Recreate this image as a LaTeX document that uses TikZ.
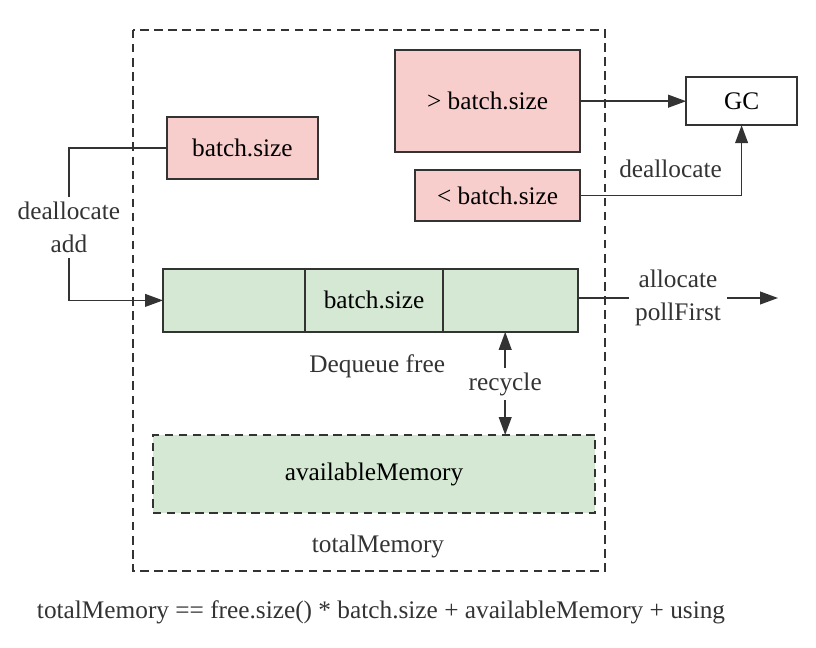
\documentclass[tikz,border=0pt]{standalone}
\usepackage{fontspec}
\setmainfont{LiberationSerif}[Extension=.ttf, UprightFont=*-Regular, BoldFont=*-Bold]
\usetikzlibrary{arrows.meta, positioning}
\definecolor{pinkfill}{RGB}{248,206,204}
\definecolor{greenfill}{RGB}{213,232,212}
\definecolor{linecol}{RGB}{51,51,51}
\tikzset{
    block/.style={
        rectangle, draw=linecol, line width=1.1pt, fill=white,
        text centered, inner sep=0pt, outer sep=0pt,
        font=\fontsize{18}{21}\selectfont
    },
    pinkblock/.style={block, fill=pinkfill},
    greenblock/.style={block, fill=greenfill},
    dashblock/.style={greenblock, dash pattern=on 6pt off 4pt},
    connection/.style={draw=linecol, line width=1.1pt, -{Triangle[length=0.45cm, width=0.32cm]}},
    label/.style={font=\fontsize{18}{23}\selectfont, text=linecol, align=center},
    gaplabel/.style={label, fill=white, inner sep=4pt}
}
\begin{document}
\begin{tikzpicture}
\useasboundingbox (0,0) rectangle (20.4,-16.2);

% Outer total memory region
\draw[linecol, line width=1.1pt, dash pattern=on 6pt off 4pt] (3.325,-0.75) rectangle (15.125,-14.275);

% Big / small batches and GC
\node[pinkblock, minimum width=4.625cm, minimum height=2.55cm] (bigbatch) at (12.19,-2.53) {> batch.size};
\node[block, minimum width=2.775cm, minimum height=1.2cm] (gc) at (18.54,-2.53) {GC};
\node[pinkblock, minimum width=4.125cm, minimum height=1.275cm] (smallbatch) at (12.44,-4.89) {< batch.size};
\node[pinkblock, minimum width=3.775cm, minimum height=1.55cm] (freebatch) at (6.06,-3.7) {batch.size};

% Dequeue free
\node[greenblock, minimum width=3.55cm, minimum height=1.575cm] (cellleft) at (5.85,-7.51) {};
\node[greenblock, minimum width=3.45cm, minimum height=1.575cm, right=0cm of cellleft] (cellmid) {batch.size};
\node[greenblock, minimum width=3.375cm, minimum height=1.575cm, right=0cm of cellmid] (cellright) {};
\node[label] (dequelbl) at (9.43,-9.15) {Dequeue free};

% Available memory
\node[dashblock, minimum width=11.05cm, minimum height=1.95cm] (avail) at (9.35,-11.85) {availableMemory};
\node[label] (totallbl) at (9.45,-13.65) {totalMemory};
\node[label, anchor=west] (formula) at (0.8,-15.3) {totalMemory == free.size() * batch.size + availableMemory + using};

% Connections
\coordinate (outend) at (19.45,-7.45);
\draw[connection] (bigbatch.east) -- (gc.west);
\draw[connection] (smallbatch.east) -| node[label, pos=0.28, above=9pt] {deallocate} (gc.south);
\draw[connection] (freebatch.west) -- ++(-2.45,0) |- node[gaplabel, pos=0.26] {deallocate\\add} (cellleft.west);
\draw[connection] (cellright.east |- outend) -- node[gaplabel] {allocate\\pollFirst} (outend);

% Recycle
\node[label, fill=white, inner sep=3pt] (recycle) at (12.63,-9.6) {recycle};
\draw[connection] (recycle) -- (recycle |- cellright.south);
\draw[connection] (recycle) -- (recycle |- avail.north);

\end{tikzpicture}
\end{document}
